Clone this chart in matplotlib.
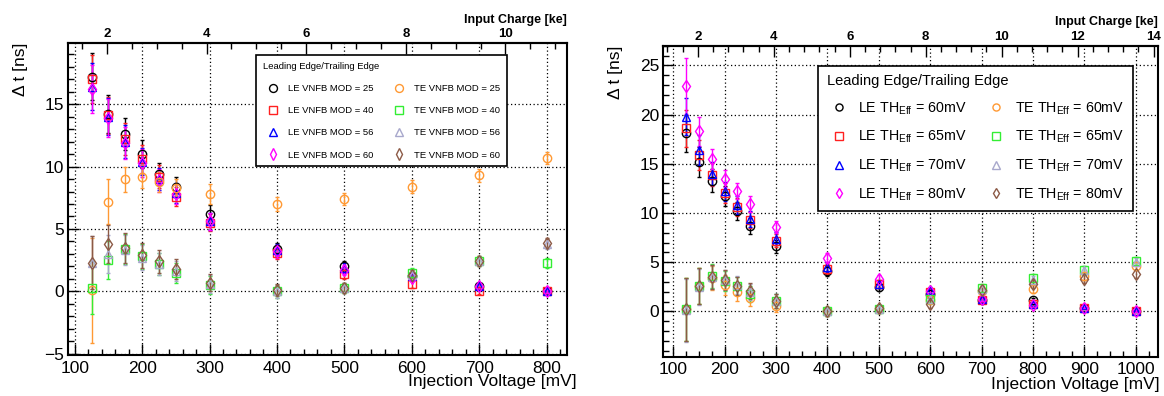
import matplotlib
matplotlib.use("Agg")
import matplotlib.pyplot as plt
from matplotlib.ticker import AutoMinorLocator, MultipleLocator

plt.rcParams['font.family'] = ['Liberation Sans', 'DejaVu Sans']
plt.rcParams['mathtext.fontset'] = 'custom'
plt.rcParams['mathtext.rm'] = 'Liberation Sans'

# injection voltage -> charge conversion (mV per ke)
MV_PER_KE = 73.9

# --- left panel: VNFB MOD scan ---
vnfb_voltage = [125, 150, 175, 200, 225, 250, 300, 400, 500, 600, 700, 800]
vnfb_mods = [25, 40, 56, 60]

le_mod25 = [17.2, 14.2, 12.6, 11.0, 9.4, 8.4, 6.2, 3.4, 2.0, 1.2, 0.4, 0.0]
le_mod40 = [17.0, 14.1, 12.2, 10.6, 9.2, 7.6, 5.5, 3.1, 1.4, 0.6, 0.0, 0.0]
le_mod56 = [16.4, 14.0, 12.0, 10.4, 9.0, 7.9, 5.6, 3.3, 1.9, 1.2, 0.4, 0.0]
le_mod60 = [16.2, 13.9, 11.9, 10.3, 8.9, 7.8, 5.6, 3.2, 1.7, 1.1, 0.4, 0.0]
le_mod_err = [1.9, 1.5, 1.3, 1.1, 0.9, 0.8, 0.7, 0.5, 0.4, 0.3, 0.2, 0.1]

te_mod25 = [0.1, 7.2, 9.0, 9.2, 8.8, 8.3, 7.8, 7.0, 7.4, 8.4, 9.3, 10.7]
te_mod40 = [0.3, 2.5, 3.4, 2.8, 2.2, 1.5, 0.5, 0.0, 0.3, 1.5, 2.4, 2.3]
te_mod56 = [2.3, 3.0, 3.3, 2.7, 2.2, 1.6, 0.6, 0.0, 0.3, 1.3, 2.4, 3.8]
te_mod60 = [2.3, 3.8, 3.5, 2.9, 2.4, 1.8, 0.7, 0.1, 0.3, 1.3, 2.4, 3.9]
te_mod25_err = [4.2, 1.8, 1.0, 0.9, 0.8, 0.7, 0.8, 0.6, 0.5, 0.5, 0.5, 0.5]
te_mod_err = [2.1, 1.5, 1.2, 1.0, 0.9, 0.8, 0.7, 0.5, 0.4, 0.4, 0.4, 0.4]

# --- right panel: effective threshold scan ---
th_voltage = [125, 150, 175, 200, 225, 250, 300, 400, 500, 600, 700, 800, 900, 1000]
th_values = [60, 65, 70, 80]

le_th60 = [18.1, 15.2, 13.3, 11.7, 10.2, 8.7, 6.6, 4.1, 2.5, 1.8, 1.2, 1.2, 0.3, 0.0]
le_th65 = [18.6, 15.9, 13.9, 12.0, 10.6, 9.3, 7.2, 4.3, 2.8, 2.0, 1.2, 0.8, 0.3, 0.0]
le_th70 = [19.8, 16.4, 14.0, 12.2, 10.8, 9.4, 7.4, 4.5, 2.8, 2.2, 1.3, 0.8, 0.3, 0.0]
le_th80 = [22.9, 18.3, 15.5, 13.5, 12.2, 10.9, 8.6, 5.4, 3.3, 2.1, 1.3, 0.7, 0.4, 0.0]
le_th_err = [1.9, 1.5, 1.2, 1.0, 0.9, 0.8, 0.7, 0.5, 0.4, 0.3, 0.2, 0.2, 0.1, 0.1]
le_th80_err = [2.8, 1.5, 1.0, 0.9, 0.8, 0.8, 0.6, 0.5, 0.4, 0.3, 0.2, 0.2, 0.1, 0.1]

te_th60 = [0.2, 2.6, 3.4, 2.7, 2.0, 1.4, 0.6, 0.0, 0.2, 1.2, 2.1, 2.3, 3.6, 4.6]
te_th65 = [0.2, 2.6, 3.6, 3.1, 2.6, 1.8, 1.1, 0.0, 0.2, 1.3, 2.4, 3.4, 4.2, 5.1]
te_th70 = [0.1, 2.5, 3.5, 3.2, 2.7, 2.0, 1.1, 0.0, 0.2, 1.3, 2.3, 3.2, 4.2, 5.0]
te_th80 = [0.2, 2.6, 3.5, 3.2, 2.6, 2.1, 1.1, 0.0, 0.3, 0.8, 2.2, 2.8, 3.3, 3.8]
te_th_err = [3.2, 1.8, 1.2, 1.0, 0.9, 0.8, 0.7, 0.5, 0.4, 0.4, 0.4, 0.4, 0.4, 0.4]

LE_STYLES = [('o', 'black'), ('s', '#ff2020'), ('^', '#0000ff'), ('d', '#ff00ff')]
TE_STYLES = [('o', '#ff9933'), ('s', '#33ee33'), ('^', '#a8a8cc'), ('d', '#8c5a46')]


def mv_to_ke(v):
    return v / MV_PER_KE


def ke_to_mv(q):
    return q * MV_PER_KE


def draw_series(ax, x, y, yerr, style):
    """Open ROOT-like marker with vertical error bar; returns the marker line."""
    marker, color = style
    cont = ax.errorbar(x, y, yerr=yerr, fmt=marker, ms=6, mfc='none', mec=color,
                       mew=1.0, ecolor=color, elinewidth=1.0, capsize=1.5,
                       capthick=1.0)
    return cont[0]


def style_axes(ax, xlim, ylim, xmajor, xminor_div, ymajor, ke_ticks, ke_minor_div):
    ax.set_xlim(*xlim)
    ax.set_ylim(*ylim)
    ax.xaxis.set_major_locator(MultipleLocator(xmajor))
    ax.xaxis.set_minor_locator(AutoMinorLocator(xminor_div))
    ax.yaxis.set_major_locator(MultipleLocator(ymajor))
    ax.yaxis.set_minor_locator(AutoMinorLocator(5))
    ax.tick_params(which='both', direction='in', top=False, right=False, labelsize=12.5)
    ax.tick_params(which='major', length=8, width=1.0)
    ax.tick_params(which='minor', length=4, width=1.0)
    ax.tick_params(axis='x', pad=4)
    ax.tick_params(axis='y', pad=3)
    ax.grid(True, which='major', color='black', linestyle=(0, (1, 2)), linewidth=0.9)
    for sp in ax.spines.values():
        sp.set_linewidth(1.5)

    secax = ax.secondary_xaxis('top', functions=(mv_to_ke, ke_to_mv))
    secax.set_xticks(ke_ticks)
    secax.xaxis.set_minor_locator(AutoMinorLocator(ke_minor_div))
    secax.tick_params(which='both', direction='in', labelsize=9.5, pad=2)
    secax.tick_params(which='major', length=8, width=1.0)
    secax.tick_params(which='minor', length=4, width=1.0)
    for lab in secax.get_xticklabels():
        lab.set_fontweight('bold')
    secax.set_xlabel('Input Charge [ke]', loc='right', fontweight='bold',
                     fontsize=9, labelpad=4)
    secax.spines['top'].set_linewidth(1.5)

    ax.set_xlabel('Injection Voltage [mV]', loc='right', fontsize=12.5)
    ax.set_ylabel('\u0394 t [ns]', loc='top', fontsize=12.5)


def main():
    fig = plt.figure(figsize=(11.64, 3.96), dpi=100)

    # --- 1. Left panel ---
    ax1 = fig.add_axes([0.0587, 0.1035, 0.4282, 0.7879])
    style_axes(ax1, (90.5, 830), (-5.1, 19.9), 100, 5, 5, [2, 4, 6, 8, 10], 4)
    ax1.xaxis.set_label_coords(1.02, -0.062)
    ax1.yaxis.set_label_coords(-0.081, 1.0)

    le_left = [le_mod25, le_mod40, le_mod56, le_mod60]
    te_left = [te_mod25, te_mod40, te_mod56, te_mod60]
    handles, labels = [], []
    for vals, mod, st in zip(le_left, vnfb_mods, LE_STYLES):
        handles.append(draw_series(ax1, vnfb_voltage, vals, le_mod_err, st))
        labels.append(f'LE VNFB MOD = {mod}')
    for i, (vals, mod, st) in enumerate(zip(te_left, vnfb_mods, TE_STYLES)):
        err = te_mod25_err if i == 0 else te_mod_err
        handles.append(draw_series(ax1, vnfb_voltage, vals, err, st))
        labels.append(f'TE VNFB MOD = {mod}')
    leg1 = ax1.legend(handles, labels, ncol=2, loc='upper left',
                      bbox_to_anchor=(0.3766, 0.9615), borderaxespad=0,
                      fontsize=6.8, title='Leading Edge/Trailing Edge',
                      title_fontsize=6.8, alignment='left', fancybox=False,
                      framealpha=1, edgecolor='black', handlelength=2.2,
                      handletextpad=0.5, columnspacing=1.6, labelspacing=1.4,
                      borderpad=0.7, markerscale=0.95)
    leg1.get_frame().set_linewidth(1.2)

    # --- 2. Right panel ---
    ax2 = fig.add_axes([0.5698, 0.0992, 0.4250, 0.7854])
    style_axes(ax2, (80.6, 1043), (-4.6, 27.0), 100, 4, 5,
               [2, 4, 6, 8, 10, 12, 14], 5)
    ax2.xaxis.set_label_coords(1.004, -0.064)
    ax2.yaxis.set_label_coords(-0.081, 1.0)

    le_right = [le_th60, le_th65, le_th70, le_th80]
    te_right = [te_th60, te_th65, te_th70, te_th80]
    handles, labels = [], []
    for i, (vals, th, st) in enumerate(zip(le_right, th_values, LE_STYLES)):
        err = le_th80_err if i == 3 else le_th_err
        handles.append(draw_series(ax2, th_voltage, vals, err, st))
        labels.append(f'LE TH$_{{\\mathregular{{Eff}}}}$ = {th}mV')
    for vals, th, st in zip(te_right, th_values, TE_STYLES):
        handles.append(draw_series(ax2, th_voltage, vals, te_th_err, st))
        labels.append(f'TE TH$_{{\\mathregular{{Eff}}}}$ = {th}mV')
    leg2 = ax2.legend(handles, labels, ncol=2, loc='upper left',
                      bbox_to_anchor=(0.3127, 0.9357), borderaxespad=0,
                      fontsize=10.3, title='Leading Edge/Trailing Edge',
                      title_fontsize=10.5, alignment='left', fancybox=False,
                      framealpha=1, edgecolor='black', handlelength=1.8,
                      handletextpad=0.42, columnspacing=1.15, labelspacing=0.85,
                      borderpad=0.6, markerscale=0.85)
    leg2.get_frame().set_linewidth(1.2)

    fig.savefig('out.png', dpi=100)


if __name__ == "__main__":
    main()
